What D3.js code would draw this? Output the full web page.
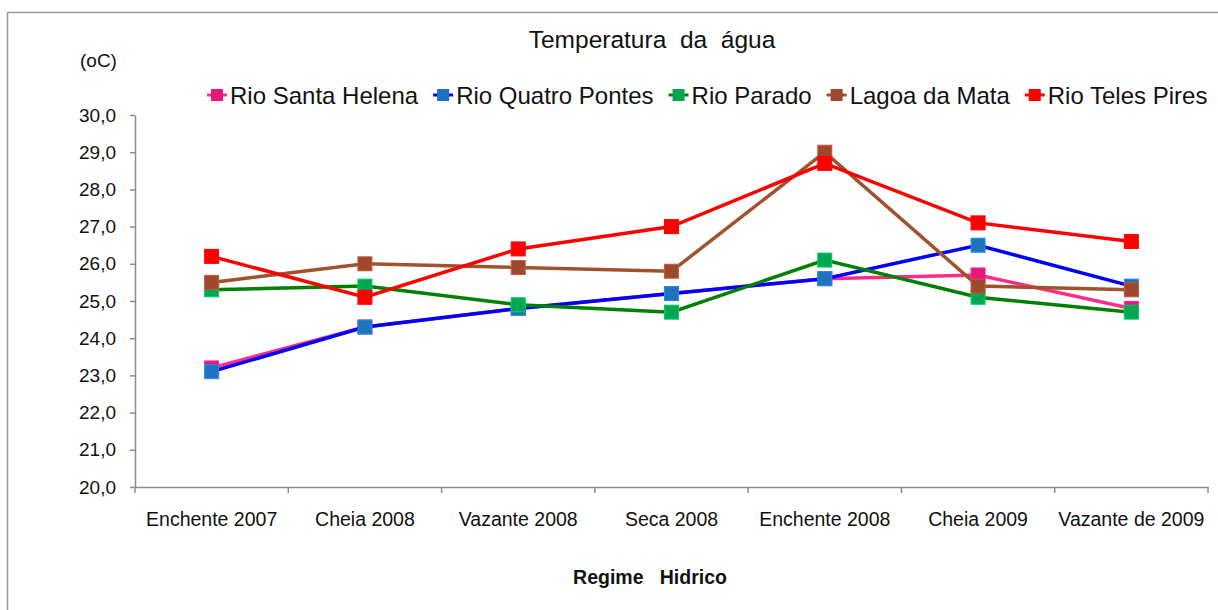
<!DOCTYPE html>
<html>
<head>
<meta charset="utf-8">
<script src="https://cdn.jsdelivr.net/npm/d3@7"></script>
<style>
  body { margin: 0; background: #fff; }
  text { font-family: "Liberation Sans", Arial, sans-serif; fill: #111; }
</style>
</head>
<body>
<div id="chart"></div>
<script>
// regime hidrico (categorias do eixo x)
var periodos = ["Enchente 2007", "Cheia 2008", "Vazante 2008", "Seca 2008", "Enchente 2008", "Cheia 2009", "Vazante de 2009"]
var nomes = ["Rio Santa Helena", "Rio Quatro Pontes", "Rio Parado", "Lagoa da Mata", "Rio Teles Pires"]
var santaHelena = [23.2, 24.3, 24.8, 25.2, 25.6, 25.7, 24.8]
var quatroPontes = [23.1, 24.3, 24.8, 25.2, 25.6, 26.5, 25.4]
var parado = [25.3, 25.4, 24.9, 24.7, 26.1, 25.1, 24.7]
var lagoaMata = [25.5, 26.0, 25.9, 25.8, 29.0, 25.4, 25.3]
var telesPires = [26.2, 25.1, 26.4, 27.0, 28.7, 27.1, 26.6]
var yTicks = [20, 21, 22, 23, 24, 25, 26, 27, 28, 29, 30]

var corLinha = ["#ff2d87", "#0000ff", "#008000", "#a0522d", "#ff0000"]
var corMarca = ["#e6197a", "#1e73be", "#00a651", "#a0482d", "#ff0000"]

var width = 1218, height = 610
var svg = d3.select("#chart").append("svg")
	.attr("width", width)
	.attr("height", height)

// moldura
svg.append("rect")
	.attr("x", 7.5).attr("y", 12.5)
	.attr("width", 1230).attr("height", 620)
	.attr("fill", "none")
	.attr("stroke", "#9a9a9a")
	.attr("stroke-width", 1.5)

var margin = { top: 115, left: 135, right: 10, bottom: 123 }
var x = d3.scaleBand()
	.domain(periodos)
	.range([margin.left, width - margin.right])
	.paddingInner(0).paddingOuter(0)
var y = d3.scaleLinear()
	.domain([20, 30])
	.range([height - margin.bottom, margin.top])

// eixo y
var gy = svg.append("g")
	.attr("transform", "translate(" + margin.left + ",0)")
	.call(d3.axisLeft(y).tickValues(yTicks).tickSize(5).tickSizeOuter(0).tickPadding(14)
		.tickFormat(function (d) { return d3.format(".1f")(d).replace(".", ",") }))
gy.select(".domain").attr("stroke", "#8c8c8c").attr("stroke-width", 1.5)
gy.selectAll(".tick line").attr("stroke", "#8c8c8c").attr("stroke-width", 1.5)
gy.selectAll(".tick text").style("font-size", "19px").attr("fill", "#111")

// eixo x
var gx = svg.append("g")
	.attr("transform", "translate(0," + y(20) + ")")
	.call(d3.axisBottom(x).tickSize(0).tickPadding(25))
gx.select(".domain").attr("stroke", "#8c8c8c").attr("stroke-width", 1.5)
gx.selectAll(".tick text").style("font-size", "19.5px").attr("fill", "#111")
// marcas entre categorias
var bordas = periodos.map(function (p) { return x(p) }).concat([x(periodos[periodos.length - 1]) + x.bandwidth()])
gx.selectAll(".sep").data(bordas).enter().append("line")
	.attr("x1", function (d) { return d }).attr("x2", function (d) { return d })
	.attr("y1", 0).attr("y2", 6)
	.attr("stroke", "#8c8c8c").attr("stroke-width", 1.5)

// titulos
svg.append("text")
	.attr("x", 652).attr("y", 48)
	.attr("text-anchor", "middle")
	.style("font-size", "24.5px")
	.style("white-space", "pre")
	.text("Temperatura  da  água")
svg.append("text")
	.attr("x", 80).attr("y", 67)
	.style("font-size", "19px")
	.text("(oC)")
svg.append("text")
	.attr("x", 650).attr("y", 584)
	.attr("text-anchor", "middle")
	.style("font-size", "19.5px")
	.style("font-weight", "bold")
	.style("white-space", "pre")
	.text("Regime   Hidrico")

// series
var series = [santaHelena, quatroPontes, parado, lagoaMata, telesPires]
var linha = d3.line()
	.x(function (d, i) { return x(periodos[i]) + x.bandwidth() / 2 })
	.y(function (d) { return y(d) })

series.forEach(function (vals, k) {
	var g = svg.append("g")
	g.append("path")
		.datum(vals)
		.attr("d", linha)
		.attr("fill", "none")
		.attr("stroke", corLinha[k])
		.attr("stroke-width", 3.5)
	g.selectAll("rect").data(vals).enter().append("rect")
		.attr("x", function (d, i) { return x(periodos[i]) + x.bandwidth() / 2 - 7 })
		.attr("y", function (d) { return y(d) - 7 })
		.attr("width", 14).attr("height", 14)
		.attr("fill", corMarca[k])
		.attr("stroke", d3.color(corMarca[k]).brighter(0.6))
		.attr("stroke-width", 1)
})

// legenda
var lx = 207, ly = 95
nomes.forEach(function (n, k) {
	var g = svg.append("g").attr("transform", "translate(" + lx + "," + ly + ")")
	g.append("line")
		.attr("x1", 0).attr("x2", 20).attr("y1", 0).attr("y2", 0)
		.attr("stroke", corLinha[k]).attr("stroke-width", 3)
	g.append("rect")
		.attr("x", 4).attr("y", -6).attr("width", 12).attr("height", 12)
		.attr("fill", corMarca[k])
	var t = g.append("text")
		.attr("x", 23).attr("y", 8.5)
		.style("font-size", "24px")
		.text(n)
	lx += 23 + t.node().getComputedTextLength() + 15
})
</script>
</body>
</html>
